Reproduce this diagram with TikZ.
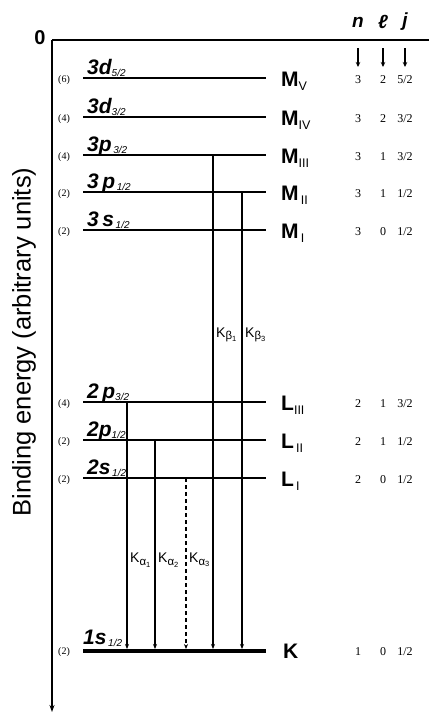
\documentclass[tikz,border=0pt]{standalone}
\usepackage{fontspec}
\setmainfont{Liberation Sans}
\newfontfamily\serif{Liberation Serif}
\usetikzlibrary{arrows.meta}
\newcommand{\orbl}[3]{\fontsize{21}{21}\selectfont\bfseries\itshape #1#2\raisebox{-0.25ex}{\fontsize{10}{10}\selectfont\mdseries #3}}
\newcommand{\shl}[2]{\fontsize{21}{21}\selectfont\bfseries #1\raisebox{-0.45ex}{\fontsize{12.5}{12.5}\selectfont\mdseries #2}}
\newcommand{\kl}[2]{\fontsize{14}{14}\selectfont K\raisebox{-0.35ex}{\fontsize{11.5}{11.5}\selectfont #1\raisebox{-0.3ex}{\fontsize{7.5}{7.5}\selectfont #2}}}
\tikzset{
  lev/.style={line width=1.8pt},
  klev/.style={line width=3.8pt},
  trans/.style={line width=1.1pt,-{Stealth[length=5pt,width=4pt]}},
  orb/.style={anchor=base west,inner sep=0pt},
  shell/.style={anchor=base west,inner sep=0pt},
  deg/.style={inner sep=0pt,font=\serif\fontsize{10}{10}\selectfont},
  qn/.style={inner sep=0pt,font=\serif\fontsize{12}{12}\selectfont},
  hdr/.style={inner sep=0pt,font=\fontsize{19}{19}\selectfont\bfseries\itshape},
  klab/.style={anchor=west,inner sep=0pt}
}
\begin{document}
\begin{tikzpicture}[x=1pt,y=-1pt]
\useasboundingbox (0,0) rectangle (429,720);
% axis
\coordinate (tr) at (429,40);
\coordinate (org) at (52,40);
\coordinate (bot) at (52,712);
\draw[line width=1.8pt] (tr) -- (org);
\draw[line width=1.4pt,-{Stealth[length=7pt,width=5pt]}] (org) -- (bot);
\node[font=\fontsize{20}{20}\selectfont\bfseries,inner sep=0pt] (zero) at (40,38) {0};
\node[rotate=90,inner sep=0pt,font=\fontsize{25.5}{25.5}\selectfont] (ax) at (24,342) {Binding energy (arbitrary units)};
% header
\node[hdr] (hn) at (358,22) {n};
\node[hdr] (hl) at (383,22) {ℓ};
\node[hdr] (hj) at (405,22) {j};
\foreach \x/\n in {358/n,383/l,405/j}{
  \coordinate (a\n1) at (\x,48);
  \coordinate (a\n2) at (\x,67);
  \draw[line width=1.2pt,-{Stealth[length=5pt,width=4.5pt]}] (a\n1) -- (a\n2);
}
% levels
\foreach \nm/\y/\d/\o/\shn/\shs/\qa/\qb/\qc in {
  MV/78/6/{\orbl{3}{d}{5/2}}/M/V/3/2/5\slash 2,
  MIV/117/4/{\orbl{3}{d}{3/2}}/M/IV/3/2/3\slash 2,
  MIII/155/4/{\orbl{3}{p}{\,3/2}}/M/III/3/1/3\slash 2,
  MII/192/2/{\orbl{3\,}{p}{\,1/2}}/M/\,II/3/1/1\slash 2,
  MI/230/2/{\orbl{3\,}{s}{\,1/2}}/M/\,I/3/0/1\slash 2,
  LIII/402/4/{\orbl{2\,}{p}{3/2}}/L/III/2/1/3\slash 2,
  LII/440/2/{\orbl{2}{p}{1/2}}/L/\,II/2/1/1\slash 2,
  LI/478/2/{\orbl{2}{s}{\,1/2}}/L/\,I/2/0/1\slash 2}{
  \coordinate (\nm l) at (83,\y);
  \coordinate (\nm r) at (266,\y);
  \draw[lev] (\nm l) -- (\nm r);
  \node[deg] (\nm d) at (64,\y+2) {(\d)};
  \node[orb] (\nm o) at (87,\y-4) {\o};
  \node[shell] (\nm s) at (281,\y+8) {\shl{\shn}{\shs}};
  \node[qn] (\nm n) at (358,\y+2) {\qa};
  \node[qn] (\nm q) at (383,\y+2) {\qb};
  \node[qn] (\nm j) at (405,\y+2) {\qc};
}
% K level
\coordinate (Kl) at (83,651);
\coordinate (Kr) at (266,651);
\draw[klev] (Kl) -- (Kr);
\node[deg] (Kd) at (64,652) {(2)};
\node[orb] (Ko) at (83,644) {\orbl{1}{s}{\,1/2}};
\node[shell] (Ks) at (283,658) {\shl{K}{}};
\node[qn] (Kn) at (358,652) {1};
\node[qn] (Kq) at (383,652) {0};
\node[qn] (Kj) at (405,652) {1\slash 2};
% transitions
\foreach \x/\top/\nm in {127/402/a1,155/440/a2,186/478/a3,213/155/b1,242/192/b3}{
  \coordinate (\nm t) at (\x,\top);
  \coordinate (\nm b) at (\x,649);
}
\draw[trans] (a1t) -- (a1b);
\draw[trans] (a2t) -- (a2b);
\draw[trans,dashed,dash pattern=on 4pt off 3pt] (a3t) -- (a3b);
\draw[trans] (b1t) -- (b1b);
\draw[trans] (b3t) -- (b3b);
\node[klab] (la1) at (130,560) {\kl{α}{1}};
\node[klab] (la2) at (158,560) {\kl{α}{2}};
\node[klab] (la3) at (189,560) {\kl{α}{3}};
\node[klab] (lb1) at (216,335) {\kl{β}{1}};
\node[klab] (lb3) at (245,335) {\kl{β}{3}};
\end{tikzpicture}
\end{document}
